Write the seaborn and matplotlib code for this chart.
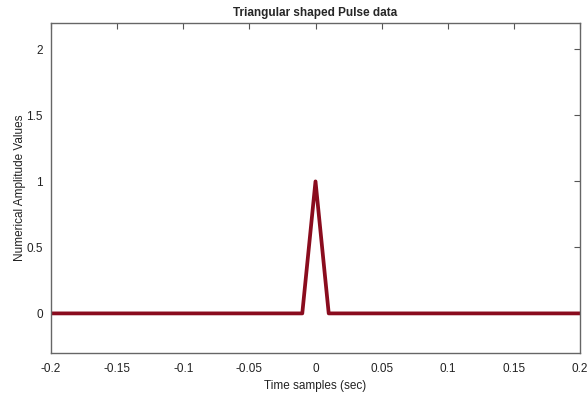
import matplotlib

matplotlib.use("Agg")
import matplotlib.pyplot as plt
import pandas as pd
import seaborn as sns

# triangular pulse, peak 1 at t=0, base from -0.01 to 0.01
time_sec = [-0.2, -0.01, 0.0, 0.01, 0.2]
amplitude = [0.0, 0.0, 1.0, 0.0, 0.0]
x_ticks = [-0.2, -0.15, -0.1, -0.05, 0, 0.05, 0.1, 0.15, 0.2]
x_labels = ["-0.2", "-0.15", "-0.1", "-0.05", "0", "0.05", "0.1", "0.15", "0.2"]
y_ticks = [0, 0.5, 1, 1.5, 2]
y_labels = ["0", "0.5", "1", "1.5", "2"]

sns.set_style("white")
plt.rcParams["font.family"] = ["Liberation Sans", "DejaVu Sans"]

df = pd.DataFrame({"t": time_sec, "amp": amplitude})

fig = plt.figure(figsize=(5.88, 3.96), dpi=100)
ax = fig.add_axes([51 / 588, 43 / 396, 529 / 588, 330 / 396])
sns.lineplot(data=df, x="t", y="amp", color="#8a0c1e", linewidth=2.7, ax=ax)

ax.set_xlim(-0.2, 0.2)
ax.set_ylim(-0.3, 2.2)
ax.set_xticks(x_ticks)
ax.set_xticklabels(x_labels)
ax.set_yticks(y_ticks)
ax.set_yticklabels(y_labels)
ax.tick_params(direction="in", length=4, width=0.8, colors="#555555",
               labelcolor="#222222", labelsize=8.5, top=True, right=True)
ax.tick_params(axis="x", pad=7)
ax.tick_params(axis="y", pad=6)
for s in ax.spines.values():
    s.set_color("#666666")
    s.set_linewidth(1.0)

ax.set_xlabel("Time samples (sec)", fontsize=8.5, color="#222222", labelpad=4)
ax.set_ylabel("Numerical Amplitude Values", fontsize=8.5, color="#222222", labelpad=0)
ax.set_title("Triangular shaped Pulse data", fontsize=8.5, fontweight="bold", pad=5)

fig.savefig("out.png", dpi=100)
